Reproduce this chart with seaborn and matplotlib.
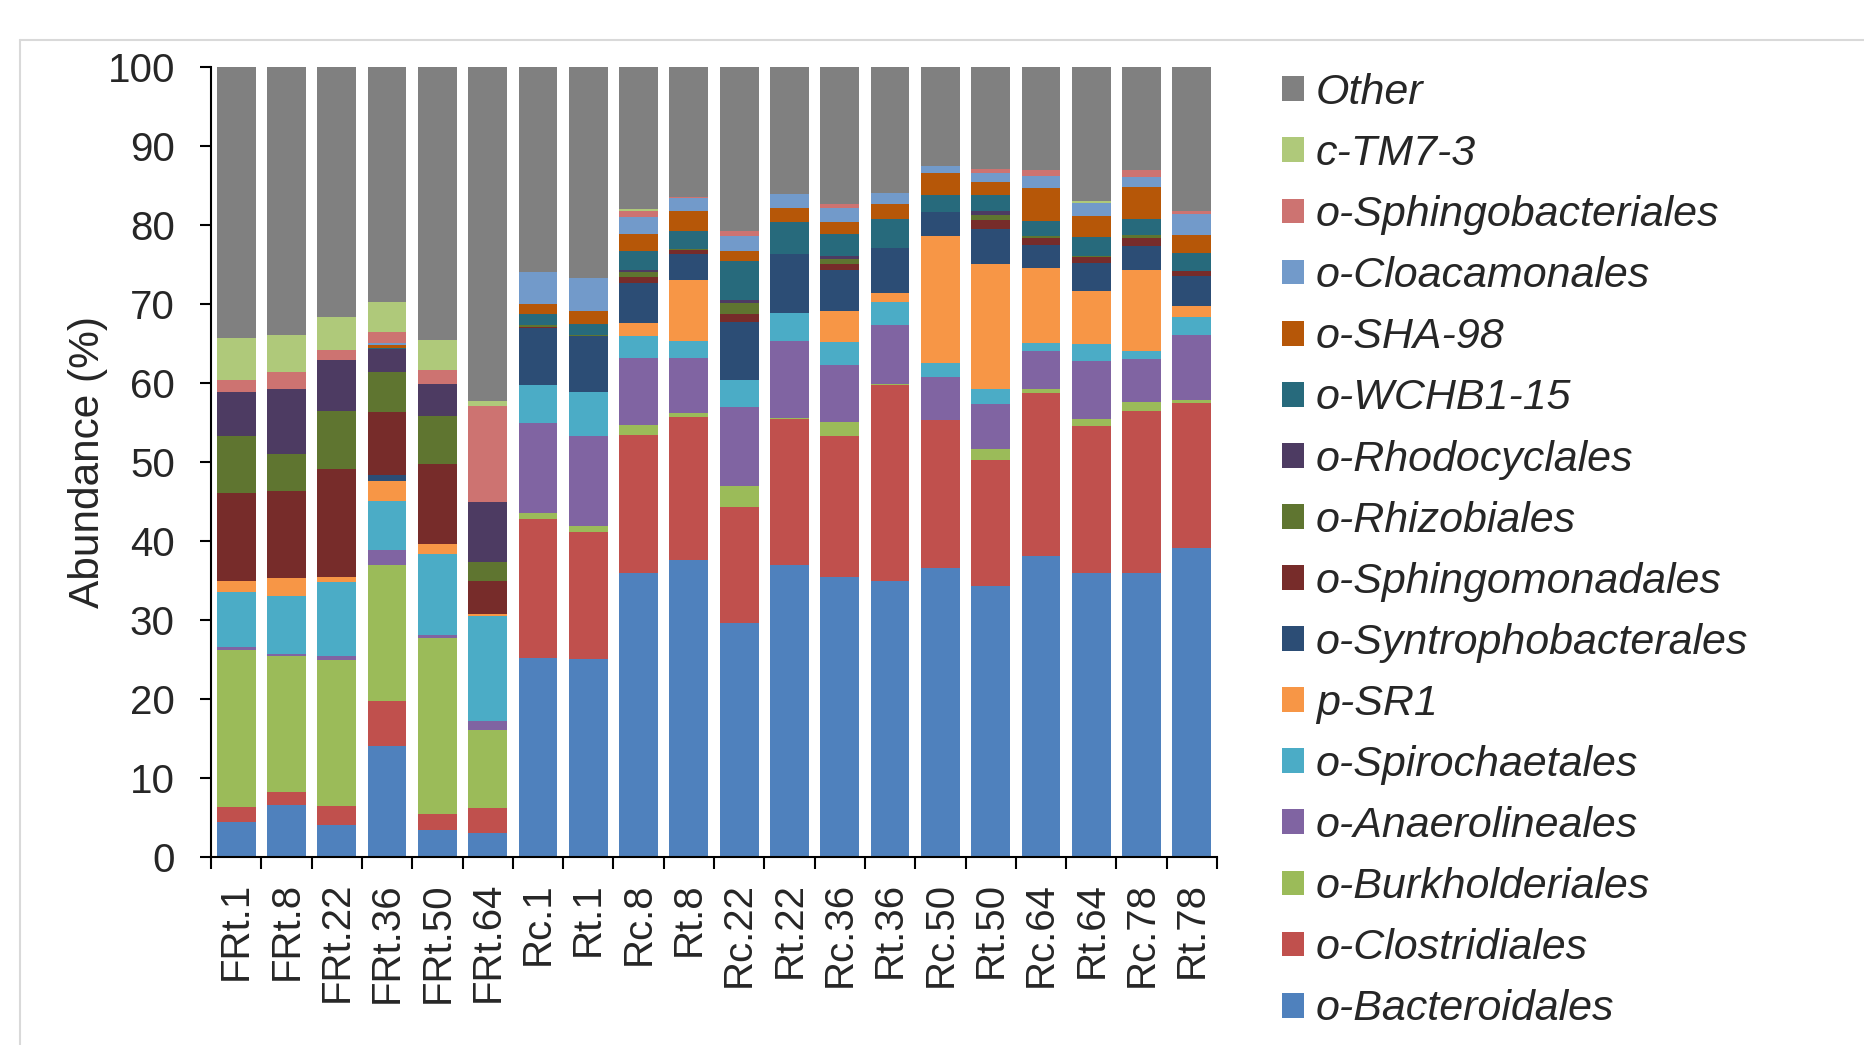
import numpy as np
import pandas as pd
import matplotlib
matplotlib.use("Agg")
import matplotlib.pyplot as plt
from matplotlib.patches import Patch
from matplotlib.lines import Line2D
import seaborn as sns

# ---------------- data ----------------
samples = ["FRt.1", "FRt.8", "FRt.22", "FRt.36", "FRt.50", "FRt.64", "Rc.1", "Rt.1",
           "Rc.8", "Rt.8", "Rc.22", "Rt.22", "Rc.36", "Rt.36", "Rc.50", "Rt.50",
           "Rc.64", "Rt.64", "Rc.78", "Rt.78"]

bacteroidales = [4.4, 6.6, 4.0, 14.1, 3.4, 3.1, 25.2, 25.1, 35.9, 37.6, 29.6, 37.0, 35.4, 34.9, 36.6, 34.3, 38.1, 35.9, 35.9, 39.1]
clostridiales = [1.9, 1.6, 2.4, 5.7, 2.1, 3.1, 17.6, 16.1, 17.5, 18.1, 14.7, 18.5, 17.9, 24.9, 18.7, 15.9, 20.6, 18.7, 20.6, 18.4]
burkholderiales = [19.9, 17.2, 18.5, 17.2, 22.2, 9.9, 0.7, 0.7, 1.3, 0.5, 2.6, 0.1, 1.8, 0.1, 0.0, 1.5, 0.6, 0.8, 1.1, 0.3]
anaerolineales = [0.4, 0.3, 0.5, 1.8, 0.4, 1.1, 11.4, 11.4, 8.5, 7.0, 10.1, 9.7, 7.2, 7.4, 5.5, 5.6, 4.8, 7.4, 5.4, 8.3]
spirochaetales = [6.9, 7.3, 9.4, 6.3, 10.3, 13.3, 4.9, 5.5, 2.8, 2.1, 3.4, 3.5, 2.9, 2.9, 1.7, 2.0, 0.9, 2.1, 1.0, 2.3]
p_sr1 = [1.5, 2.3, 0.7, 2.5, 1.2, 0.2, 0.0, 0.0, 1.6, 7.7, 0.0, 0.0, 3.9, 1.2, 16.1, 15.8, 9.5, 6.7, 10.3, 1.4]
syntrophobacterales = [0.0, 0.0, 0.0, 0.8, 0.0, 0.0, 7.1, 7.1, 5.1, 3.3, 7.3, 7.5, 5.2, 5.7, 3.0, 4.4, 3.0, 3.6, 3.0, 3.8]
sphingomonadales = [11.1, 11.0, 13.6, 7.9, 10.2, 4.2, 0.2, 0.1, 0.7, 0.5, 1.0, 0.0, 0.7, 0.0, 0.0, 1.1, 0.9, 0.7, 1.1, 0.6]
rhizobiales = [7.2, 4.7, 7.3, 5.1, 6.0, 2.4, 0.2, 0.1, 0.7, 0.2, 1.4, 0.0, 0.7, 0.0, 0.0, 0.7, 0.2, 0.2, 0.3, 0.0]
rhodocyclales = [5.5, 8.2, 6.5, 2.9, 4.1, 7.6, 0.0, 0.0, 0.2, 0.0, 0.4, 0.0, 0.4, 0.0, 0.0, 0.5, 0.0, 0.0, 0.0, 0.0]
wchb1_15 = [0.0, 0.0, 0.0, 0.1, 0.0, 0.0, 1.4, 1.4, 2.4, 2.2, 4.9, 4.1, 2.7, 3.6, 2.2, 2.0, 1.9, 2.4, 2.1, 2.2]
sha_98 = [0.0, 0.0, 0.0, 0.4, 0.0, 0.0, 1.3, 1.6, 2.2, 2.6, 1.3, 1.8, 1.6, 2.0, 2.8, 1.6, 4.2, 2.6, 4.0, 2.3]
cloacamonales = [0.0, 0.0, 0.0, 0.3, 0.0, 0.0, 4.0, 4.2, 2.1, 1.6, 1.9, 1.7, 1.8, 1.3, 0.9, 1.2, 1.5, 1.7, 1.3, 2.7]
sphingobacteriales = [1.6, 2.2, 1.3, 1.4, 1.7, 12.2, 0.0, 0.0, 0.8, 0.2, 0.7, 0.0, 0.4, 0.0, 0.0, 0.5, 0.7, 0.0, 0.8, 0.4]
c_tm7_3 = [5.3, 4.7, 4.2, 3.7, 3.9, 0.6, 0.0, 0.0, 0.2, 0.0, 0.0, 0.0, 0.0, 0.0, 0.0, 0.0, 0.0, 0.2, 0.0, 0.0]
other = [34.3, 33.9, 31.6, 29.8, 34.5, 42.3, 26.0, 26.7, 18.0, 16.4, 20.7, 16.1, 17.4, 16.0, 12.5, 12.9, 13.1, 17.0, 13.1, 18.2]

# stacking order, bottom -> top
taxa = ["o-Bacteroidales", "o-Clostridiales", "o-Burkholderiales", "o-Anaerolineales",
        "o-Spirochaetales", "p-SR1", "o-Syntrophobacterales", "o-Sphingomonadales",
        "o-Rhizobiales", "o-Rhodocyclales", "o-WCHB1-15", "o-SHA-98", "o-Cloacamonales",
        "o-Sphingobacteriales", "c-TM7-3", "Other"]
series = [bacteroidales, clostridiales, burkholderiales, anaerolineales, spirochaetales,
          p_sr1, syntrophobacterales, sphingomonadales, rhizobiales, rhodocyclales,
          wchb1_15, sha_98, cloacamonales, sphingobacteriales, c_tm7_3, other]
colors = ["#4F81BD", "#C0504D", "#9BBB59", "#8064A2", "#4BACC6", "#F79646",
          "#2C4D75", "#772C2A", "#5F7530", "#4D3B62", "#276A7C", "#B65708",
          "#729ACA", "#CD7371", "#AFC97A", "#808080"]

# ---------------- style ----------------
sns.set_style("ticks")
plt.rcParams["font.family"] = ["Liberation Sans", "DejaVu Sans"]

FS = 29
LFS = 31
fig = plt.figure(figsize=(18.64, 10.45), dpi=100)
ax = fig.add_axes([211 / 1864, 1 - 857 / 1045, 1006 / 1864, 790 / 1045])

vals = np.array(series, dtype=float)
cum = np.cumsum(vals, axis=0)

# draw cumulative bars from the top layer down so each lower layer covers the upper ones
for i in range(len(taxa) - 1, -1, -1):
    df = pd.DataFrame({"sample": samples, "value": cum[i]})
    sns.barplot(data=df, x="sample", y="value", order=samples, color=colors[i],
                saturation=1, width=0.77, linewidth=0, errorbar=None, ax=ax)

ax.set_xlim(-0.5, len(samples) - 0.5)
ax.set_ylim(0, 100)
ax.set_yticks(np.arange(0, 101, 10))
ax.tick_params(axis="y", labelsize=FS, length=8, width=1.5, pad=18, direction="out", color="black")

# x: ticks at category boundaries, labels at centres
ax.set_xticks(np.arange(-0.5, len(samples), 1.0))
ax.set_xticklabels([])
ax.tick_params(axis="x", which="major", length=8.5, width=1.5, direction="out", color="black")
ax.set_xticks(np.arange(len(samples)), minor=True)
ax.set_xticklabels(samples, minor=True, rotation=90, fontsize=FS, va="top", ha="center")
ax.tick_params(axis="x", which="minor", length=0, pad=18)

ax.set_xlabel("")
ax.set_ylabel("Abundance (%)", fontsize=30.5)
ax.yaxis.set_label_coords(-0.102, 0.5)

for s in ["top", "right"]:
    ax.spines[s].set_visible(False)
for s in ["left", "bottom"]:
    ax.spines[s].set_linewidth(1.5)
    ax.spines[s].set_color("black")

# legend (top entry = Other)
handles = [Patch(facecolor=colors[i], edgecolor="none", label=taxa[i])
           for i in range(len(taxa) - 1, -1, -1)]
leg = fig.legend(handles=handles, loc="upper left", bbox_to_anchor=(1282 / 1864, 1 - 73 / 1045),
                 frameon=False, borderpad=0, borderaxespad=0, handlelength=0.51,
                 handleheight=0.51, handletextpad=0.28, labelspacing=0.49,
                 prop={"family": ["Liberation Sans", "DejaVu Sans"], "style": "italic", "size": LFS})

# outer chart-area border (light grey, top and left visible)
fig.add_artist(Line2D([20 / 1864, 1.0], [1 - 39.5 / 1045, 1 - 39.5 / 1045],
                      transform=fig.transFigure, color="#d9d9d9", linewidth=1.5))
fig.add_artist(Line2D([20 / 1864, 20 / 1864], [0.0, 1 - 39.5 / 1045],
                      transform=fig.transFigure, color="#d9d9d9", linewidth=1.5))

fig.savefig("out.png", dpi=100, facecolor="white")
